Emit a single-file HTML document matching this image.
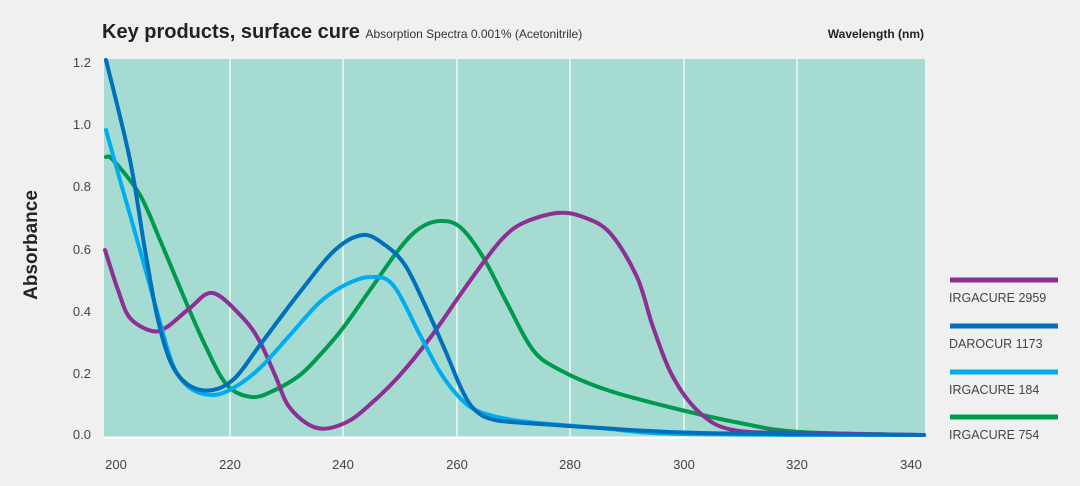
<!DOCTYPE html>
<html><head><meta charset="utf-8"><style>
html,body{margin:0;padding:0;background:#eff0ef;}
svg{display:block;font-family:"Liberation Sans",sans-serif;}
</style></head><body>
<svg id="s" width="1080" height="486" viewBox="0 0 1080 486" xmlns="http://www.w3.org/2000/svg">
<rect width="1080" height="486" fill="#eff0ef"/>
<rect x="104" y="59" width="821" height="378" fill="#a6dbd2"/>
<g stroke="#ffffff" stroke-width="1.2">
<line x1="230" y1="59" x2="230" y2="437"/>
<line x1="343" y1="59" x2="343" y2="437"/>
<line x1="457" y1="59" x2="457" y2="437"/>
<line x1="570" y1="59" x2="570" y2="437"/>
<line x1="684" y1="59" x2="684" y2="437"/>
<line x1="797" y1="59" x2="797" y2="437"/>
<line x1="104" y1="437.5" x2="925" y2="437.5" stroke-width="2"/>
</g>
<text x="102" y="38" font-size="20" font-weight="bold" fill="#222">Key products, surface cure <tspan font-size="12" font-weight="normal" fill="#333">Absorption Spectra 0.001% (Acetonitrile)</tspan></text>
<text x="924" y="38" font-size="12" font-weight="bold" fill="#222" text-anchor="end">Wavelength (nm)</text>
<text transform="translate(37,245) rotate(-90)" font-size="19" font-weight="bold" fill="#222" text-anchor="middle">Absorbance</text>
<g font-size="13" fill="#444" text-anchor="end">
<text x="91" y="67">1.2</text><text x="91" y="129">1.0</text><text x="91" y="191">0.8</text>
<text x="91" y="254">0.6</text><text x="91" y="316">0.4</text><text x="91" y="378">0.2</text><text x="91" y="439">0.0</text>
</g>
<g font-size="13" fill="#444" text-anchor="middle">
<text x="116" y="469">200</text><text x="230" y="469">220</text><text x="343" y="469">240</text><text x="457" y="469">260</text>
<text x="570" y="469">280</text><text x="684" y="469">300</text><text x="797" y="469">320</text><text x="911" y="469">340</text>
</g>
<g fill="none" stroke-width="4" stroke-linejoin="round" stroke-linecap="round">
<polyline class="c" stroke="#009a4e" points="106,157 113,160 140,195 160,240 183,295 205,345 227,385 252,397 275,390 300,375 320,355 343,328 370,290 400,248 420,228 440,221 460,227 483,257 507,303 533,350 560,370 607,390 673,408 740,423 800,432 924,435"/>
<polyline class="c" stroke="#8e2f93" points="105,250 118,290 130,318 152,331 167,327 190,308 213,293 243,318 260,342 275,375 290,408 317,428 347,422 375,400 400,375 430,338 460,295 483,263 503,238 523,223 557,213 583,217 610,233 637,277 653,327 673,377 700,413 733,430 800,433 924,435"/>
<polyline class="c" stroke="#00aeef" points="106,130 120,180 140,250 158,315 173,365 190,388 213,395 235,387 260,368 290,335 320,302 345,285 370,277 393,285 420,335 440,372 460,398 480,412 520,421 600,428 684,434 924,435"/>
<polyline class="c" stroke="#0070bb" points="106,60 130,160 145,250 158,320 172,365 190,386 213,390 235,378 260,345 300,292 335,250 363,235 385,245 405,265 425,305 445,350 462,390 475,410 495,420 540,424 600,428 700,433 924,435"/>
</g>
<g stroke-width="5">
<line x1="950" y1="280" x2="1058" y2="280" stroke="#8e2f93"/>
<line x1="950" y1="326" x2="1058" y2="326" stroke="#0070bb"/>
<line x1="950" y1="372" x2="1058" y2="372" stroke="#00aeef"/>
<line x1="950" y1="417" x2="1058" y2="417" stroke="#009a4e"/>
</g>
<g font-size="12.5" fill="#444">
<text x="949" y="302">IRGACURE 2959</text>
<text x="949" y="348">DAROCUR 1173</text>
<text x="949" y="394">IRGACURE 184</text>
<text x="949" y="439">IRGACURE 754</text>
</g>
</svg>
<script>
document.querySelectorAll('polyline.c').forEach(function(pl){
  var p=pl.getAttribute('points').trim().split(/\s+/).map(function(s){return s.split(',').map(Number);});
  var d='M'+p[0][0]+','+p[0][1];
  for(var i=0;i<p.length-1;i++){
    var p0=p[i>0?i-1:i],p1=p[i],p2=p[i+1],p3=p[i+2<p.length?i+2:i+1];
    var c1=[p1[0]+(p2[0]-p0[0])/6,p1[1]+(p2[1]-p0[1])/6];
    var c2=[p2[0]-(p3[0]-p1[0])/6,p2[1]-(p3[1]-p1[1])/6];
    d+=' C'+c1[0].toFixed(1)+','+c1[1].toFixed(1)+' '+c2[0].toFixed(1)+','+c2[1].toFixed(1)+' '+p2[0]+','+p2[1];
  }
  var path=document.createElementNS('http://www.w3.org/2000/svg','path');
  path.setAttribute('d',d);path.setAttribute('stroke',pl.getAttribute('stroke'));
  pl.parentNode.replaceChild(path,pl);
});
</script>
</body></html>
